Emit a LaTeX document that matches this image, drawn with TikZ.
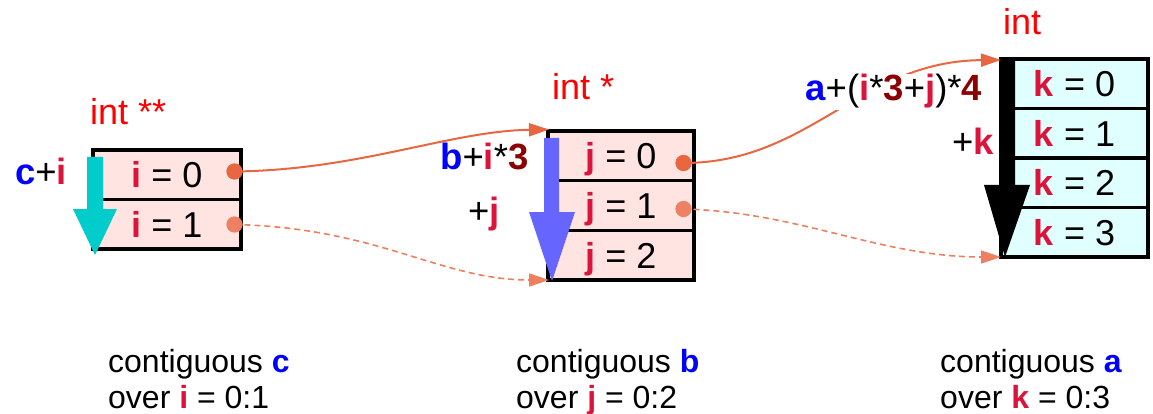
\documentclass[tikz,border=0pt]{standalone}
\usepackage{fontspec}
\setmainfont{Liberation Sans}
\usetikzlibrary{arrows.meta}
\definecolor{cblue}{RGB}{0,0,255}
\definecolor{cred}{RGB}{220,20,60}
\definecolor{cdred}{RGB}{139,0,0}
\definecolor{lblred}{RGB}{255,0,0}
\definecolor{pinkfill}{RGB}{255,228,225}
\definecolor{cyanfill}{RGB}{224,255,255}
\definecolor{arrcyan}{RGB}{0,204,204}
\definecolor{arrblue}{RGB}{102,102,255}
\definecolor{conn}{RGB}{232,102,64}
\definecolor{connl}{RGB}{238,128,98}
\newcommand{\myi}{\textcolor{cred}{\textbf{i}}}
\newcommand{\myj}{\textcolor{cred}{\textbf{j}}}
\newcommand{\myk}{\textcolor{cred}{\textbf{k}}}
\newcommand{\mya}{\textcolor{cblue}{\textbf{a}}}
\newcommand{\myb}{\textcolor{cblue}{\textbf{b}}}
\newcommand{\myc}{\textcolor{cblue}{\textbf{c}}}
\newcommand{\mythree}{\textcolor{cdred}{\textbf{3}}}
\newcommand{\myfour}{\textcolor{cdred}{\textbf{4}}}
\begin{document}
\begin{tikzpicture}[x=1pt,y=-1pt,
  cellbase/.style={draw=black, line width=3.5pt, inner sep=0pt, text height=26pt, text depth=0pt,
    font=\fontsize{36}{40}\selectfont},
  cellp/.style={cellbase, fill=pinkfill, minimum height=49.6pt},
  cellc/.style={cellbase, fill=cyanfill, minimum height=49.5pt},
  dotsolid/.style={circle, fill=conn, inner sep=0pt, minimum size=16pt},
  dotlight/.style={circle, fill=connl, fill opacity=0.9, inner sep=0pt, minimum size=16pt},
  conline/.style={draw=conn, line width=2pt, -{Triangle[length=20pt,width=13pt]}},
  conlight/.style={draw=connl, line width=1.6pt, dash pattern=on 6pt off 4pt,
    -{Triangle[length=20pt,width=13pt]}},
  typelbl/.style={anchor=base west, inner sep=0pt, text=lblred, font=\fontsize{36}{40}\selectfont},
  exprlbl/.style={anchor=base west, inner sep=0pt, font=\fontsize{36.5}{40}\selectfont},
  botlbl/.style={anchor=base west, inner sep=0pt, font=\fontsize{32}{36}\selectfont},
  ]
\useasboundingbox (0,0) rectangle (1153,414);

% box c
\node[cellp, minimum width=148pt] (c0) at (167,174.75) {\myi{} = 0};
\node[cellp, minimum width=148pt] (c1) at (167,224.25) {\myi{} = 1};
% box b
\node[cellp, minimum width=146pt] (b0) at (621,155.8) {\myj{} = 0};
\node[cellp, minimum width=146pt] (b1) at (621,205.5) {\myj{} = 1};
\node[cellp, minimum width=146pt] (b2) at (621,255.2) {\myj{} = 2};
% box a
\node[cellc, minimum width=147pt] (a0) at (1074.5,83.75) {\myk{} = 0};
\node[cellc, minimum width=147pt] (a1) at (1074.5,133.25) {\myk{} = 1};
\node[cellc, minimum width=147pt] (a2) at (1074.5,182.75) {\myk{} = 2};
\node[cellc, minimum width=147pt] (a3) at (1074.5,232.25) {\myk{} = 3};

% block arrows
\fill[arrcyan] (87,157) -- (103,157) -- (103,209) -- (117,209) -- (95,255) -- (73,209) -- (87,209) -- cycle;
\fill[arrblue] (544,138) -- (559,138) -- (559,212) -- (575,212) -- (552,281) -- (529,212) -- (544,212) -- cycle;
\fill[black] (1001,59) -- (1015,59) -- (1015,185) -- (1030,185) -- (1005,257) -- (984,185) -- (1001,185) -- cycle;

% connectors
\coordinate (btl) at (549,129.5);
\coordinate (bbl) at (549,280);
\coordinate (atl) at (1001,60);
\coordinate (abl) at (1001,257);
\node[dotsolid] (d1) at (234.5,171.5) {};
\node[dotlight] (d2) at (234.5,224.5) {};
\node[dotsolid] (d3) at (683.5,163) {};
\node[dotlight] (d4) at (683.5,209) {};
\draw[conline] (d1.center) .. controls (360,170) and (450,131) .. (btl);
\draw[conlight] (d2.center) .. controls (380,228) and (440,280) .. (bbl);
\draw[conline] (d3.center) .. controls (810,163) and (860,61) .. (atl);
\draw[conlight] (d4.center) .. controls (800,212) and (880,257) .. (abl);
\node[dotsolid] at (d1) {};
\node[dotlight] at (d2) {};
\node[dotsolid] at (d3) {};
\node[dotlight] at (d4) {};

% type labels
\node[typelbl] (t1) at (90,125) {int **};
\node[typelbl] (t2) at (552,100) {int *};
\node[typelbl] (t3) at (1003,35) {int};

% expression labels
\node[exprlbl] (e1) at (15,185) {\myc+\myi};
\node[exprlbl] (e2) at (440,170) {\myb+\myi*\mythree};
\node[exprlbl] (e3) at (468,223) {+\myj};
\node[exprlbl, fill=white, inner sep=1pt] (e4) at (804,101) {\mya+(\myi*\mythree+\myj)*\myfour};
\node[exprlbl] (e5) at (952,155) {+\myk};

% bottom labels
\node[botlbl] (l1) at (108,372) {contiguous \myc};
\node[botlbl] (l1b) at (108,408) {over \myi{} = 0:1};
\node[botlbl] (l2) at (516,372) {contiguous \myb};
\node[botlbl] (l2b) at (516,408) {over \myj{} = 0:2};
\node[botlbl] (l3) at (940,372) {contiguous \mya};
\node[botlbl] (l3b) at (940,408) {over \myk{} = 0:3};
\end{tikzpicture}
\end{document}
